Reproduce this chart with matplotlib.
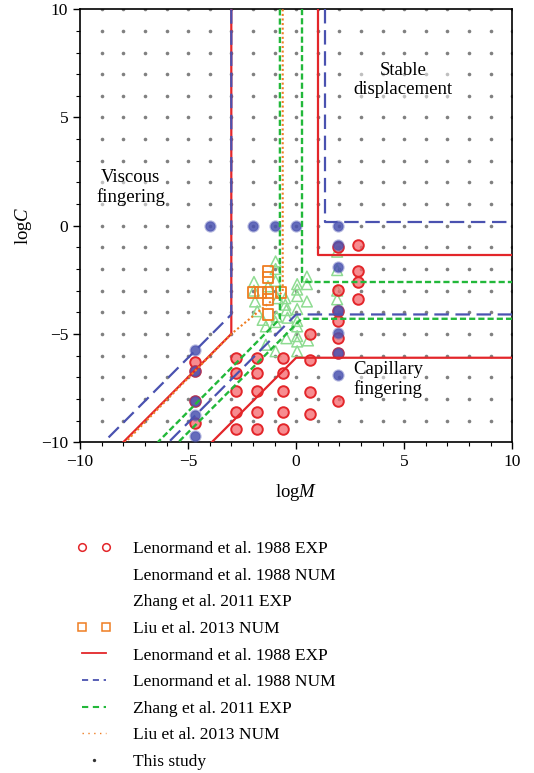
import numpy as np
import matplotlib

matplotlib.use("Agg")
import matplotlib.pyplot as plt
from matplotlib.lines import Line2D
from matplotlib.legend_handler import HandlerLine2D

plt.rcParams["font.family"] = ["Liberation Serif", "DejaVu Serif"]
plt.rcParams["mathtext.fontset"] = "custom"
plt.rcParams["mathtext.rm"] = "Liberation Serif"
plt.rcParams["mathtext.it"] = "Liberation Serif:italic"

# ---- phase-diagram boundaries (logM, logC) ----
len_exp_left_x = [-3, -3, -8]
len_exp_left_y = [10, -5, -10]
len_exp_top_x = [1, 1, 10]
len_exp_top_y = [10, -1.35, -1.35]
len_exp_bot_x = [10, 0, -3.9]
len_exp_bot_y = [-6.1, -6.1, -10]

len_num_left_x = [-3, -3, -8.9]
len_num_left_y = [10, -4.1, -10]
len_num_top_x = [1.35, 1.35, 10]
len_num_top_y = [10, 0.15, 0.15]
len_num_bot_x = [10, 0, -5.9]
len_num_bot_y = [-4.1, -4.1, -10]

zh_left_x = [-0.75, -0.75, -6.4]
zh_left_y = [10, -4.3, -10]
zh_top_x = [0.25, 0.25, 10]
zh_top_y = [10, -2.6, -2.6]
zh_bot_x = [10, 0.25, -5.45]
zh_bot_y = [-4.3, -4.3, -10]

liu_x = [-0.62, -0.62, -3.0, -7.9]
liu_y = [10, -3.05, -5.0, -10]

# ---- literature data points ----
len_exp_x = [-4.7, -4.7, -4.7, -4.7,
             -2.8, -2.8, -2.8, -2.8, -2.8,
             -1.8, -1.8, -1.8, -1.8, -1.8,
             -0.6, -0.6, -0.6, -0.6, -0.6,
             0.65, 0.65, 0.65, 0.65,
             1.95, 1.95, 1.95, 1.95, 1.95, 1.95, 1.95,
             2.85, 2.85, 2.85, 2.85]
len_exp_y = [-6.3, -6.7, -8.1, -9.1,
             -6.1, -6.8, -7.65, -8.6, -9.4,
             -6.1, -6.8, -7.65, -8.6, -9.4,
             -6.1, -6.8, -7.65, -8.6, -9.4,
             -5.0, -6.2, -7.7, -8.7,
             -1.0, -2.95, -3.95, -4.4, -5.2, -5.9, -8.1,
             -0.9, -2.1, -2.6, -3.4]

len_num_x = [-4.7, -4.7, -4.7, -4.7, -4.7,
             -4.0, -2.0, -1.0, 0.0, 1.95,
             1.95, 1.95, 1.95, 1.95, 1.95, 1.95]
len_num_y = [-5.72, -6.72, -8.1, -8.76, -9.72,
             0, 0, 0, 0, 0,
             -0.9, -1.9, -3.9, -4.95, -5.9, -6.9]

zhang_x = [-1.95, -1.95, -1.9, -1.8, -1.3, -1.55, -1.4, -1.4,
           -0.95, -0.95, -0.95, -0.9, -0.95, -0.95,
           -0.85, -0.5, -0.5, -0.45, -0.4, -0.45,
           0.05, 0.05, 0.05, 0.05, 0.05, 0.05, 0.05, 0.05, 0.05,
           0.5, 0.5, 0.5, 0.55,
           1.9, 1.9, 1.9, 1.9]
zhang_y = [-2.6, -3.0, -3.5, -3.95, -2.8, -4.35, -4.65, -5.5,
           -1.65, -2.0, -2.55, -4.2, -4.45, -5.8,
           -3.35, -3.35, -3.65, -3.9, -4.25, -5.2,
           -2.7, -2.95, -3.25, -3.85, -4.4, -4.65, -5.1, -5.35, -5.8,
           -2.35, -2.7, -3.5, -5.3,
           -1.2, -2.05, -3.0, -3.4]

liu_pts_x = [-1.3, -1.3, -2.0, -1.65, -1.3, -0.7, -1.3, -1.3]
liu_pts_y = [-2.1, -2.4, -3.08, -3.08, -3.08, -3.08, -3.4, -4.1]

# this study: regular grid of simulations
study_x = np.arange(-9, 11)
study_y = np.arange(-9, 11)

RED = "#e3262a"
BLUE = "#4a52b0"
GREEN = "#22b83a"
LGREEN = "#8fdc92"
ORANGE = "#ef7d22"
GREY = "#808080"

fig = plt.figure(figsize=(5.34, 7.73), dpi=100)
ax = fig.add_axes([0.150, 0.428, 0.809, 0.560])

gx, gy = np.meshgrid(study_x, study_y)
ax.plot(gx.ravel(), gy.ravel(), "o", ms=2.6, color=GREY, mec="none", zorder=1)

ax.scatter(zhang_x, zhang_y, s=60, marker="^", facecolors="none",
           edgecolors=LGREEN, linewidths=1.1, zorder=2)
ax.scatter(len_exp_x, len_exp_y, s=58, marker="o", facecolors=(0.96, 0.4, 0.42, 0.75),
           edgecolors=RED, linewidths=1.4, zorder=3)
ax.scatter(len_num_x, len_num_y, s=52, marker="o", facecolors=(0.29, 0.32, 0.69, 0.85),
           edgecolors=(0.29, 0.32, 0.69, 0.4), linewidths=1.6, zorder=4)
ax.scatter(liu_pts_x, liu_pts_y, s=60, marker="s", facecolors="none",
           edgecolors=ORANGE, linewidths=1.3, zorder=4)

for xs, ys in [(len_exp_left_x, len_exp_left_y), (len_exp_top_x, len_exp_top_y),
               (len_exp_bot_x, len_exp_bot_y)]:
    ax.plot(xs, ys, "-", color=RED, lw=1.6, zorder=5)
for xs, ys in [(len_num_left_x, len_num_left_y), (len_num_top_x, len_num_top_y),
               (len_num_bot_x, len_num_bot_y)]:
    ax.plot(xs, ys, color=BLUE, lw=1.6, dashes=(6.5, 3), zorder=5)
for xs, ys in [(zh_left_x, zh_left_y), (zh_top_x, zh_top_y), (zh_bot_x, zh_bot_y)]:
    ax.plot(xs, ys, color=GREEN, lw=1.7, dashes=(2.6, 1.3), zorder=5)
ax.plot(liu_x, liu_y, color=ORANGE, lw=1.5, dashes=(1, 1.2), zorder=6)

ax.set_xlim(-10, 10)
ax.set_ylim(-10, 10)
ax.set_xticks([-10, -5, 0, 5, 10])
ax.set_yticks([-10, -5, 0, 5, 10])
ax.set_xticks(np.arange(-10, 11), minor=True)
ax.set_yticks(np.arange(-10, 11), minor=True)
ax.tick_params(which="both", direction="out", top=False, right=False, labelsize=12.5)
ax.tick_params(which="major", length=5, width=1)
ax.tick_params(which="minor", length=3, width=0.8)
ax.set_xlabel("log$M$", fontsize=13.5, labelpad=9)
ax.set_ylabel("log$C$", fontsize=13.5, labelpad=5)
for s in ax.spines.values():
    s.set_linewidth(1.2)

txt_kw = dict(fontsize=13.5, ha="center", va="center", linespacing=1.15, zorder=7,
              bbox=dict(fc="white", ec="none", alpha=0.5, pad=0.3))
ax.text(-7.65, 1.75, "Viscous\nfingering", **txt_kw)
ax.text(4.95, 6.75, "Stable\ndisplacement", **txt_kw)
ax.text(4.25, -7.1, "Capillary\nfingering", **txt_kw)

study_handle = Line2D([], [], ls="none", marker="o", ms=2.4, mfc="#333333", mec="none")
handles = [
    Line2D([], [], ls="none", marker="o", ms=5.5, mfc="white", mec=RED, mew=1.1),
    Line2D([], [], ls="none"),
    Line2D([], [], ls="none"),
    Line2D([], [], ls="none", marker="s", ms=5.5, mfc="white", mec=ORANGE, mew=1.1),
    Line2D([], [], color=RED, lw=1.3),
    Line2D([], [], color=BLUE, lw=1.3, dashes=(3.4, 2.6)),
    Line2D([], [], color=GREEN, lw=1.5, dashes=(3.0, 2.2)),
    Line2D([], [], color=ORANGE, lw=1.0, dashes=(1, 3.2)),
    study_handle,
]
labels = ["Lenormand et al. 1988 EXP", "Lenormand et al. 1988 NUM", "Zhang et al. 2011 EXP",
          "Liu et al. 2013 NUM", "Lenormand et al. 1988 EXP", "Lenormand et al. 1988 NUM",
          "Zhang et al. 2011 EXP", "Liu et al. 2013 NUM", "This study"]
fig.legend(handles, labels, loc="upper left", bbox_to_anchor=(0.143, 0.300),
           frameon=False, fontsize=12.5, numpoints=2, handlelength=2.0,
           handletextpad=1.25, labelspacing=0.6, borderpad=0, borderaxespad=0,
           handler_map={study_handle: HandlerLine2D(numpoints=1)})

fig.savefig("out.png", dpi=100)
